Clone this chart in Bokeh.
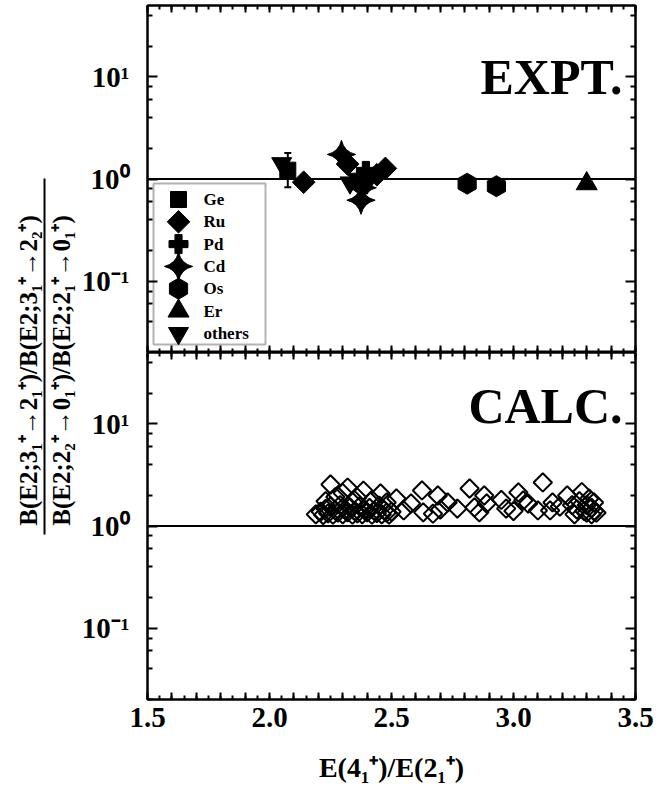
import math
from bokeh.plotting import figure
from bokeh.models import (Range1d, LogAxis, LinearAxis, FixedTicker, CustomJSTickFormatter,
                          Span, Label, Whisker, TeeHead, ColumnDataSource, BoxAnnotation)
from bokeh.layouts import row, column
from bokeh.embed import file_html
from bokeh.resources import INLINE

# ---------------- data ----------------
# EXPT. panel
ge_x = [2.075]; ge_y = [1.22]; ge_lo = [0.83]; ge_hi = [1.80]
ru_x = [2.14, 2.32, 2.44, 2.475]; ru_y = [0.93, 1.40, 1.10, 1.27]
pd_x = [2.395]; pd_y = [1.20]
cd_x = [2.295, 2.375, 2.38]; cd_y = [1.74, 0.62, 0.82]
os_x = [2.81, 2.93]; os_y = [0.90, 0.85]
er_x = [3.30]; er_y = [0.90]
oth_x = [2.05, 2.33, 2.36, 2.40]; oth_y = [1.42, 0.92, 1.00, 0.92]

# CALC. panel
calc_x = [2.19, 2.21, 2.22, 2.23, 2.24, 2.25, 2.26, 2.27, 2.28, 2.29, 2.30, 2.31, 2.32, 2.33,
          2.34, 2.35, 2.36, 2.37, 2.38, 2.39, 2.40, 2.41, 2.42, 2.43, 2.44, 2.45, 2.46, 2.47,
          2.48, 2.49, 2.50,
          2.25, 2.32, 2.385, 2.455, 2.27, 2.30, 2.36, 2.42, 2.48, 2.23, 2.34,
          2.52, 2.55, 2.58, 2.63, 2.625, 2.67, 2.69, 2.70, 2.73, 2.77, 2.82, 2.84, 2.86, 2.88,
          2.89, 2.95, 2.97, 3.00, 3.02, 3.04, 3.06, 3.10, 3.12, 3.15, 3.16, 3.19, 3.22,
          3.24, 3.25, 3.26, 3.27, 3.28, 3.29, 3.30, 3.30, 3.31, 3.32, 3.32, 3.33, 3.33, 3.34]
calc_y = [1.30, 1.38, 1.28, 1.47, 1.33, 1.55, 1.29, 1.42, 1.35, 1.60, 1.30, 1.45, 1.36, 1.52,
          1.29, 1.40, 1.33, 1.56, 1.30, 1.44, 1.36, 1.50, 1.29, 1.41, 1.34, 1.58, 1.30, 1.43,
          1.35, 1.29, 1.38,
          2.55, 2.38, 2.22, 2.08, 1.92, 2.10, 1.90, 1.80, 1.70, 1.75, 1.72,
          1.86, 1.42, 1.66, 1.36, 2.23, 1.32, 1.99, 1.45, 1.70, 1.48, 2.33, 1.52, 1.36, 1.99,
          1.66, 1.80, 1.48, 1.40, 2.13, 1.78, 1.66, 1.42, 2.67, 1.42, 1.70, 1.55, 1.99,
          1.60, 1.30, 1.45, 1.75, 2.15, 1.40, 1.60, 1.35, 1.85, 1.30, 1.50, 1.40, 1.70, 1.35]

x_ticks = [1.5, 2.0, 2.5, 3.0, 3.5]
x_tick_labels = ["1.5", "2.0", "2.5", "3.0", "3.5"]
y_ticks = [0.1, 1, 10]
y_tick_labels = ["10\u207b\u00b9", "10\u2070", "10\u00b9"]
y_minor = [0.02, 0.04, 0.06, 0.08, 0.2, 0.4, 0.6, 0.8, 2, 4, 6, 8, 20, 40]

legend_names = ["Ge", "Ru", "Pd", "Cd", "Os", "Er", "others"]

X0, X1 = 1.5, 3.5
Y0, Y1 = 0.02, 50

FONT = "Liberation Serif"
LABW = 76  # width of the strip holding the y-axis title

# ---------------- helpers ----------------
x_major = [round(1.5 + 0.1 * i, 2) for i in range(21)]
x_minor = [round(1.5 + 0.05 * i, 3) for i in range(41)]

x_fmt = CustomJSTickFormatter(args=dict(tv=x_ticks, tl=x_tick_labels), code="""
for (let i = 0; i < tv.length; i++) { if (Math.abs(tick - tv[i]) < 1e-6) return tl[i]; }
return "";
""")
y_fmt = CustomJSTickFormatter(args=dict(tv=y_ticks, tl=y_tick_labels), code="""
for (let i = 0; i < tv.length; i++) { if (Math.abs(Math.log10(tick) - Math.log10(tv[i])) < 1e-6) return tl[i]; }
return "";
""")
blank_fmt = CustomJSTickFormatter(code="return '';")


def style_axis(ax, labeled, major_in, minor_in):
    ax.major_tick_in = major_in
    ax.major_tick_out = 0
    ax.minor_tick_in = minor_in
    ax.minor_tick_out = 0
    ax.major_tick_line_width = 2
    ax.minor_tick_line_width = 2
    ax.axis_line_width = 2
    ax.major_tick_line_color = "black"
    ax.minor_tick_line_color = "black"
    ax.axis_line_color = "black"
    ax.major_label_text_font = FONT
    ax.major_label_text_font_style = "bold"
    ax.major_label_text_color = "black"
    if labeled:
        ax.major_label_text_font_size = "29px"
    else:
        ax.major_label_text_font_size = "0px"
        ax.major_label_standoff = 0


def make_panel(height, border_bottom, show_xlabels):
    p = figure(width=669 - LABW, height=height, x_range=Range1d(X0, X1), y_range=Range1d(Y0, Y1),
               y_axis_type="log", x_axis_location=None, y_axis_location=None,
               output_backend="svg", toolbar_location=None,
               min_border_left=147 - LABW, min_border_right=34, min_border_top=0,
               min_border_bottom=border_bottom)
    p.outline_line_color = "black"
    p.outline_line_width = 2
    p.background_fill_color = "white"
    p.border_fill_color = "white"
    p.grid.visible = False
    xt = FixedTicker(ticks=x_major, minor_ticks=x_minor)
    yt = FixedTicker(ticks=y_ticks, minor_ticks=y_minor)
    for loc in ("below", "above"):
        lab = show_xlabels and loc == "below"
        ax = LinearAxis(ticker=xt, formatter=x_fmt if lab else blank_fmt)
        style_axis(ax, lab, 7, 4)
        if lab:
            ax.major_label_standoff = 8
            ax.axis_label = "E(4\u2081\u207a)/E(2\u2081\u207a)"
            ax.axis_label_text_font = FONT
            ax.axis_label_text_font_style = "bold"
            ax.axis_label_text_font_size = "28px"
            ax.axis_label_text_color = "black"
            ax.axis_label_standoff = 22
        p.add_layout(ax, loc)
    for loc in ("left", "right"):
        lab = loc == "left"
        ax = LogAxis(ticker=yt, formatter=y_fmt if lab else blank_fmt)
        style_axis(ax, lab, 10, 5)
        if lab:
            ax.major_label_standoff = 18
        p.add_layout(ax, loc)
    p.add_layout(Span(location=1, dimension="width", line_color="black", line_width=2))
    return p


# ---------------- top panel (EXPT.) ----------------
top = make_panel(352, 0, False)
top.min_border_top = 5

MS = dict(color="black", line_color="black")
top.add_layout(Whisker(source=ColumnDataSource(dict(x=ge_x, lo=ge_lo, hi=ge_hi)),
                       base="x", lower="lo", upper="hi", line_width=2, line_color="black",
                       upper_head=TeeHead(size=7, line_width=2, line_color="black"),
                       lower_head=TeeHead(size=7, line_width=2, line_color="black")))
top.scatter(ge_x, ge_y, marker="square", size=16, **MS)
top.scatter(oth_x, oth_y, marker="inverted_triangle", size=20, **MS)
top.scatter(ru_x, ru_y, marker="square", angle=math.pi / 4, size=16, **MS)
top.scatter(pd_x, pd_y, marker="plus", size=19, **MS)
top.scatter(cd_x, cd_y, marker="square_pin", angle=math.pi / 4, size=20, **MS)
top.scatter(cd_x, cd_y, marker="plus", size=12, **MS)
top.scatter(os_x, os_y, marker="hex", angle=math.pi / 2, size=21, **MS)
top.scatter(er_x, er_y, marker="triangle", size=21, **MS)

top.add_layout(Label(x=3.447, y=9.9, text="EXPT.", text_align="right", text_baseline="alphabetic",
                     text_font=FONT, text_font_style="bold", text_font_size="50px",
                     text_color="black"))

# hand-built legend (frame-pixel layout converted to data coordinates)
FRAME_H = 347.0
LOGSPAN = math.log10(Y1) - math.log10(Y0)


def ydata(px_from_top):
    return 10 ** (math.log10(Y1) - px_from_top / FRAME_H * LOGSPAN)


def xdata(px_from_left):
    return X0 + px_from_left / 488.0 * (X1 - X0)


top.add_layout(BoxAnnotation(left=xdata(6), right=xdata(118), top=ydata(178), bottom=ydata(339),
                             fill_color="white", fill_alpha=1, line_color="black",
                             line_width=2, level="underlay"))
leg_markers = [("square", 0, 16), ("square", math.pi / 4, 16), ("plus", 0, 19),
               ("square_pin", math.pi / 4, 20), ("hex", math.pi / 2, 21),
               ("triangle", 0, 21), ("inverted_triangle", 0, 20)]
for i, (name, (mk, ang, sz)) in enumerate(zip(legend_names, leg_markers)):
    yy = ydata(194 + 22.3 * i)
    top.scatter([xdata(31)], [yy], marker=mk, angle=ang, size=sz, **MS)
    if name == "Cd":
        top.scatter([xdata(31)], [yy], marker="plus", size=12, **MS)
    top.add_layout(Label(x=xdata(56), y=yy, text=name, text_align="left", text_baseline="middle",
                         text_font=FONT, text_font_style="bold", text_font_size="17px",
                         text_color="black"))

# ---------------- bottom panel (CALC.) ----------------
bottom = make_panel(439, 92, True)
bottom.scatter(calc_x, calc_y, marker="square", angle=math.pi / 4, size=13,
               fill_color=None, line_color="black", line_width=2)
bottom.add_layout(Label(x=3.447, y=14.8, text="CALC.", text_align="right", text_baseline="alphabetic",
                        text_font=FONT, text_font_style="bold", text_font_size="50px",
                        text_color="black"))

# ---------------- y-axis title (fraction spanning both panels) ----------------
lab = figure(width=LABW, height=791, x_range=Range1d(0, LABW), y_range=Range1d(791, 0),
             x_axis_location=None, y_axis_location=None, output_backend="svg",
             toolbar_location=None, min_border=0)
lab.outline_line_color = None
lab.grid.visible = False
num = "B(E2;3\u2081\u207a\u21922\u2081\u207a)/B(E2;3\u2081\u207a\u21922\u2082\u207a)"
den = "B(E2;2\u2082\u207a\u21920\u2081\u207a)/B(E2;2\u2081\u207a\u21920\u2081\u207a)"
lab.add_layout(Label(x=28, y=370, text=num, angle=math.pi / 2, text_align="center",
                     text_baseline="middle", text_font=FONT, text_font_style="bold",
                     text_font_size="25px", text_color="black"))
lab.add_layout(Label(x=61, y=370, text=den, angle=math.pi / 2, text_align="center",
                     text_baseline="middle", text_font=FONT, text_font_style="bold",
                     text_font_size="25px", text_color="black"))
lab.segment(x0=[44], y0=[178], x1=[44], y1=[534], line_color="black", line_width=2)

layout = row(lab, column(top, bottom))
open("out.html", "w").write(file_html(layout, INLINE))
